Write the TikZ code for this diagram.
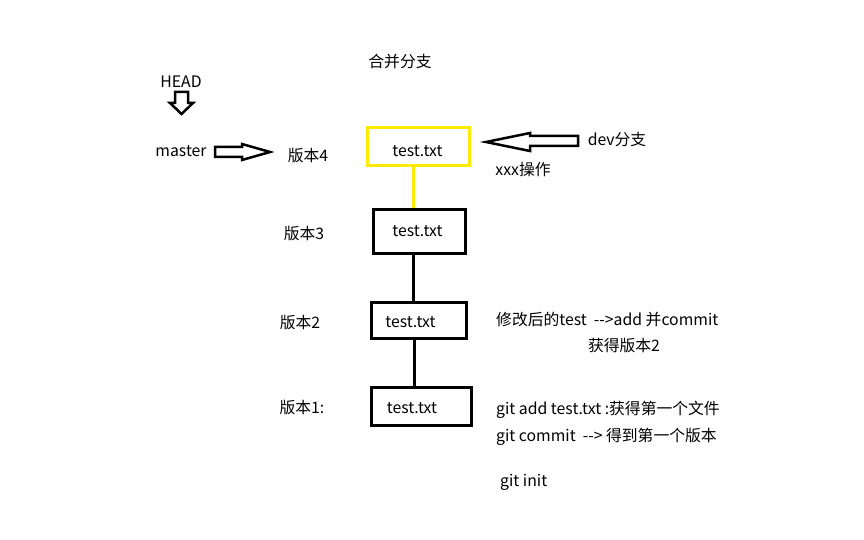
\documentclass[tikz,border=0pt]{standalone}
\usepackage{fontspec}
\setmainfont{Noto Sans CJK SC}
\definecolor{ylw}{RGB}{255,235,0}
\begin{document}
\begin{tikzpicture}[x=1pt,y=-1pt,
  lbl/.style={inner sep=0pt,font=\fontsize{15.8}{18}\selectfont},
  filebox/.style={draw=black,line width=3pt,inner sep=0pt},
  link/.style={line width=3pt},
  blockarrow/.style={draw=black,line width=2.5pt,fill=white,line join=miter}]
\useasboundingbox (0,0) rectangle (864,540);
% boxes
\node[filebox,draw=ylw,minimum width=102pt,minimum height=38pt,
  label={[lbl,xshift=-0.5pt,yshift=-4pt]center:test.txt}] (b4) at (418,147) {};
\node[filebox,minimum width=92pt,minimum height=44pt,
  label={[lbl,xshift=-1.5pt]center:test.txt}] (b3) at (419,231) {};
\node[filebox,minimum width=95pt,minimum height=36pt,
  label={[lbl,xshift=-8pt,yshift=-2.5pt]center:test.txt}] (b2) at (418.5,320) {};
\node[filebox,minimum width=100pt,minimum height=38pt,
  label={[lbl,xshift=-9pt,yshift=-2.5pt]center:test.txt}] (b1) at (421,406) {};
\draw[link,draw=ylw] (b4.south -| 413,0) -- (b3.north -| 413,0);
\draw[link] (b3.south -| 413,0) -- (b2.north -| 413,0);
\draw[link] (b2.south -| 414,0) -- (b1.north -| 414,0);
% labels
\node[lbl] (title) at (400,62) {合并分支};
\node[lbl] (head) at (181,82) {HEAD};
\node[lbl] (master) at (181,151) {master};
\node[lbl] (v4) at (308,156) {版本4};
\node[lbl] (v3) at (304,234) {版本3};
\node[lbl] (v2) at (300,323) {版本2};
\node[lbl] (v1) at (302,408) {版本1:};
\node[lbl] (dev) at (617,140) {dev分支};
\node[lbl] (xxx) at (523,170) {xxx操作};
\node[lbl,anchor=west] (n2a) at (496,320) {修改后的test~ -{}->add 并commit};
\node[lbl] (n2b) at (624,346) {获得版本2};
\node[lbl,anchor=west] (n1a) at (496,410) {git add test.txt :获得第一个文件};
\node[lbl,anchor=west] (n1b) at (496,437) {git commit~ -{}-> 得到第一个版本};
\node[lbl,anchor=west] (ini) at (500,482) {git init};
% block arrows
\draw[blockarrow] (175,92) -- (188,92) -- (188,103) -- (193,103) -- (181.5,114) -- (170,103) -- (175,103) -- cycle;
\draw[blockarrow] (215,147) -- (242,147) -- (242,144) -- (270,152) -- (242,160) -- (242,157) -- (215,157) -- cycle;
\draw[blockarrow] (578,136) -- (530,136) -- (530,133) -- (486,142) -- (530,151) -- (530,146) -- (578,146) -- cycle;
\end{tikzpicture}
\end{document}
